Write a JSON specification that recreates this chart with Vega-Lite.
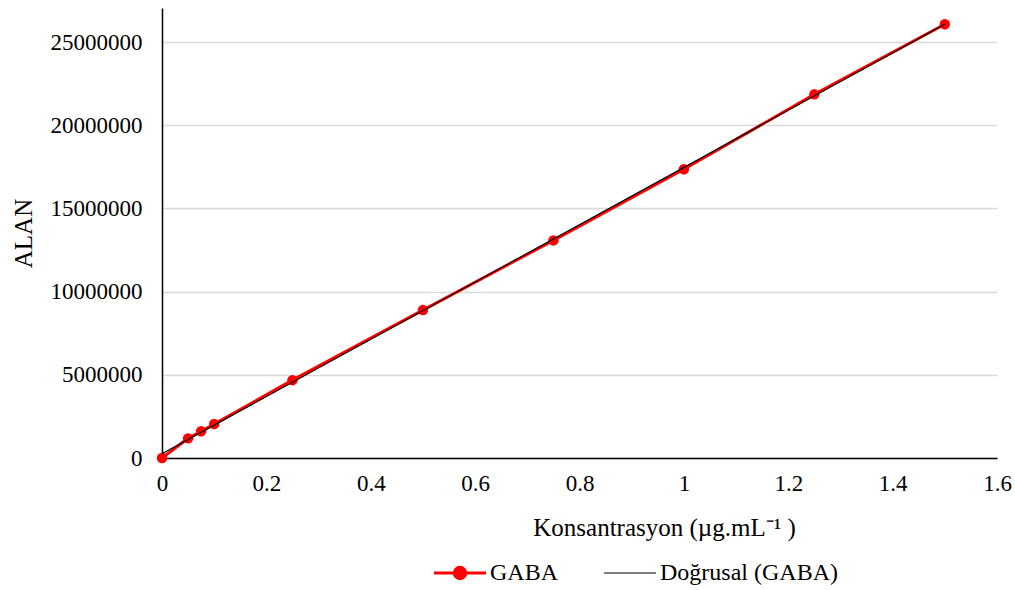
{
  "$schema": "https://vega.github.io/schema/vega-lite/v6.json",
  "width": 835,
  "height": 450,
  "autosize": {"type": "none"},
  "padding": {"left": 162, "top": 8, "right": 18, "bottom": 132},
  "background": "white",
  "config": {
    "view": {"stroke": null},
    "font": "Liberation Serif",
    "axis": {"labelFont": "Liberation Serif", "titleFont": "Liberation Serif", "labelColor": "#000", "titleColor": "#000", "titleFontWeight": "normal"},
    "legend": {"labelFont": "Liberation Serif"}
  },
  "data": {
    "values": [
      {"x": 0, "y": 0, "s": "GABA"},
      {"x": 0.05, "y": 1180000, "s": "GABA"},
      {"x": 0.075, "y": 1610000, "s": "GABA"},
      {"x": 0.1, "y": 2040000, "s": "GABA"},
      {"x": 0.25, "y": 4680000, "s": "GABA"},
      {"x": 0.5, "y": 8890000, "s": "GABA"},
      {"x": 0.75, "y": 13080000, "s": "GABA"},
      {"x": 1.0, "y": 17360000, "s": "GABA"},
      {"x": 1.25, "y": 21860000, "s": "GABA"},
      {"x": 1.5, "y": 26070000, "s": "GABA"}
    ]
  },
  "encoding": {
    "x": {
      "field": "x", "type": "quantitative",
      "scale": {"domain": [0, 1.6], "nice": false, "zero": false},
      "axis": {
        "values": [0, 0.2, 0.4, 0.6, 0.8, 1, 1.2, 1.4, 1.6],
        "format": "~g",
        "grid": false, "ticks": false, "domainColor": "#000", "domainWidth": 1.5,
        "labelFontSize": 23, "labelPadding": 14, "labelFlush": false,
        "title": "Konsantrasyon (µg.mL⁻¹ )", "titleFontSize": 25,
        "titleX": 502, "titleY": 77, "titleBaseline": "alphabetic"
      }
    },
    "y": {
      "field": "y", "type": "quantitative",
      "scale": {"domain": [0, 27050000], "nice": false},
      "axis": {
        "values": [0, 5000000, 10000000, 15000000, 20000000, 25000000],
        "format": "d",
        "grid": true, "gridColor": "#d9d9d9", "gridWidth": 1.5,
        "ticks": false, "domainColor": "#000", "domainWidth": 1.5,
        "labelFontSize": 23, "labelPadding": 20,
        "title": "ALAN", "titleFontSize": 25,
        "titleX": -139, "titleY": 225, "titleAngle": -90, "titleAlign": "center", "titleBaseline": "middle"
      }
    }
  },
  "layer": [
    {
      "mark": {"type": "line", "strokeWidth": 3, "color": "#ff0000"},
      "encoding": {
        "color": {
          "field": "s", "type": "nominal",
          "scale": {"domain": ["GABA", "Doğrusal (GABA)"], "range": ["#ff0000", "#000000"]},
          "legend": {
            "orient": "none", "legendX": 286, "legendY": 553,
            "direction": "horizontal", "title": null,
            "labelFontSize": 24, "labelColor": "#000", "labelOffset": 18, "labelLimit": 400,
            "symbolSize": 2704, "symbolType": "stroke", "columnPadding": 42,
            "encode": {
              "symbols": {"update": {
                "shape": {"signal": "datum.value === 'GABA' ? 'M-1,0H1M-0.22,0A0.22,0.22 0 1,1 0.22,0A0.22,0.22 0 1,1 -0.22,0Z' : 'stroke'"},
                "strokeWidth": {"signal": "datum.value === 'GABA' ? 3 : 1.2"},
                "fill": {"signal": "datum.value === 'GABA' ? '#ff0000' : 'transparent'"},
                "fillOpacity": {"value": 1}
              }}
            }
          }
        }
      }
    },
    {
      "mark": {"type": "point", "filled": true, "size": 110, "opacity": 1, "color": "#ff0000"},
      "encoding": {"color": {"field": "s", "type": "nominal"}}
    },
    {
      "transform": [
        {"regression": "y", "on": "x", "extent": [0, 1.5]},
        {"calculate": "'Doğrusal (GABA)'", "as": "s"}
      ],
      "mark": {"type": "line", "strokeWidth": 1.2},
      "encoding": {"color": {"field": "s", "type": "nominal"}}
    }
  ]
}
